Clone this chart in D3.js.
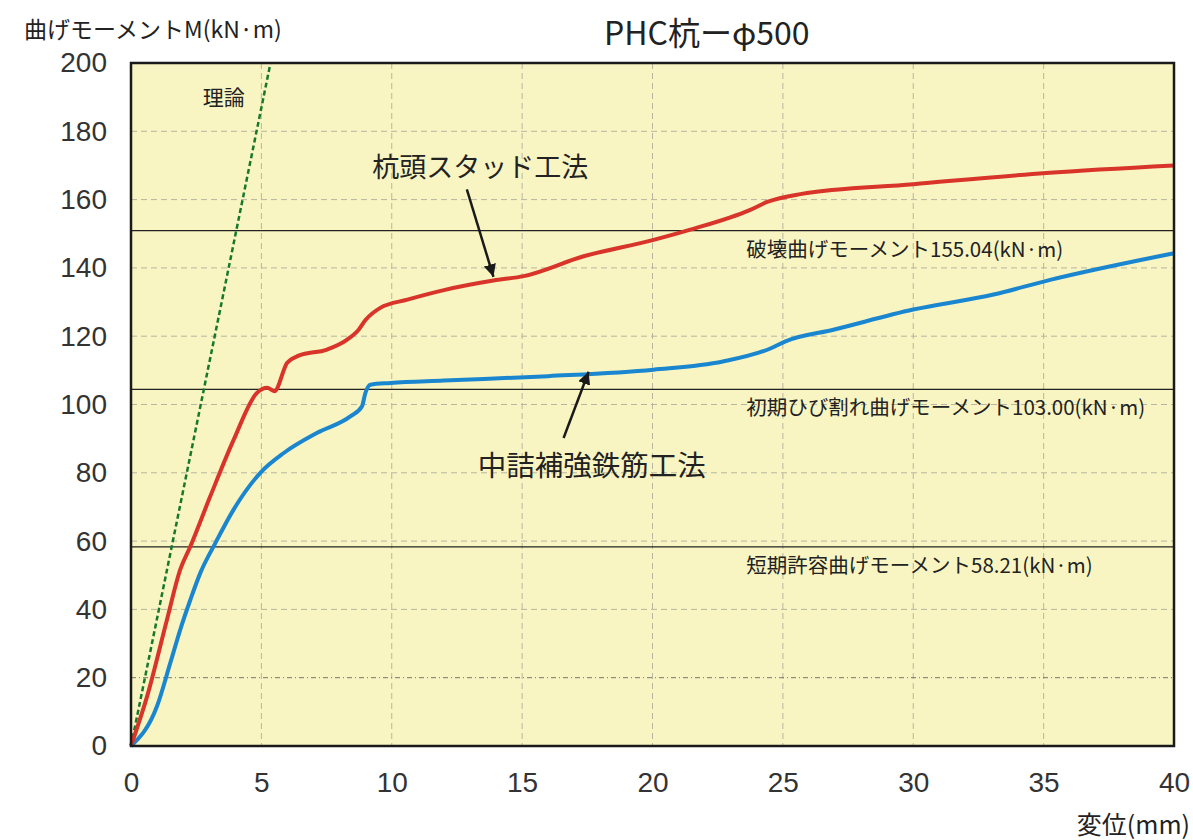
<!DOCTYPE html>
<html>
<head>
<meta charset="utf-8">
<script src="https://cdn.jsdelivr.net/npm/d3@7"></script>
<style>
  body { margin: 0; background: #fff; }
  text { font-family: "Noto Sans CJK JP", "Noto Sans", sans-serif; fill: #222; }
</style>
</head>
<body>
<div id="chart"></div>
<script>
// Values (displacement mm, moment kN·m)
var studX = [0, 0.62, 1.38, 1.89, 2.28, 3.04, 3.94, 4.83, 5.22, 5.5, 5.99, 6.43, 7.52, 8.29, 8.73, 9.0, 9.56, 10.6, 12.0, 13.9, 15.06, 17.36, 20.04, 21.45, 23.75, 24.4, 25.67, 30.0, 35.1, 40];
var studY = [0, 14.6, 37, 51.7, 58.5, 73.1, 89.7, 103.4, 104.9, 103.9, 112.2, 114.3, 116.1, 119, 121.9, 124.8, 128.3, 130.7, 133.5, 136.3, 137.6, 143.4, 148.2, 151.2, 157, 159.3, 161.6, 164.5, 167.8, 170];

var rebarX = [0, 1.0, 1.51, 1.89, 2.28, 2.66, 3.24, 3.94, 4.96, 5.86, 7.14, 8.41, 8.86, 8.99, 9.18, 9.95, 12.0, 16.0, 20.04, 22.7, 24.52, 25.1, 26.94, 30.0, 33.08, 35.25, 40];
var rebarY = [0, 11.7, 24.4, 34.1, 42.9, 50.7, 59.5, 69.3, 80, 85.8, 91.7, 96.5, 99.5, 103.4, 105.8, 106.3, 107.0, 108.3, 110.2, 112.6, 116.4, 118.5, 121.9, 127.8, 132.2, 136.5, 144.3];

var theoryX = [0, 5.35];
var theoryY = [0, 200];

// reference lines (where they are drawn in the picture) and their labels
var refValues = [150.9, 104.4, 58.3];
var refLabels = ["破壊曲げモーメント155.04(kN·m)", "初期ひび割れ曲げモーメント103.00(kN·m)", "短期許容曲げモーメント58.21(kN·m)"];

var xTicks = [0, 5, 10, 15, 20, 25, 30, 35, 40];
var yTicks = [0, 20, 40, 60, 80, 100, 120, 140, 160, 180, 200];

// Set the dimensions and margins of the graph
var margin = { top: 63, right: 19, bottom: 94, left: 131 },
  width = 1193 - margin.left - margin.right,
  height = 840 - margin.top - margin.bottom;

var svgRoot = d3.select("#chart")
  .append("svg")
  .attr("width", 1193)
  .attr("height", 840);

var svg = svgRoot.append("g")
  .attr("transform", "translate(" + margin.left + "," + margin.top + ")");

var x = d3.scaleLinear().domain([0, 40]).range([0, width]);
var y = d3.scaleLinear().domain([0, 200]).range([height, 0]);

// plot background
svg.append("rect")
  .attr("width", width)
  .attr("height", height)
  .attr("fill", "#f8f5c2");

// grid
svg.append("g")
  .selectAll("line")
  .data(xTicks.slice(1, -1))
  .join("line")
  .attr("x1", function (d) { return x(d); })
  .attr("x2", function (d) { return x(d); })
  .attr("y1", 0)
  .attr("y2", height)
  .attr("stroke", "#b8b6a0")
  .attr("stroke-width", 1)
  .attr("stroke-dasharray", "6,4");

svg.append("g")
  .selectAll("line")
  .data(yTicks.slice(1, -1))
  .join("line")
  .attr("x1", 0)
  .attr("x2", width)
  .attr("y1", function (d) { return y(d); })
  .attr("y2", function (d) { return y(d); })
  .attr("stroke", function (d) { return d === 20 ? "#77766a" : "#b8b6a0"; })
  .attr("stroke-width", 1)
  .attr("stroke-dasharray", function (d) { return d === 20 ? "5,3,1,3" : "6,4"; });

// reference lines + labels
svg.append("g")
  .selectAll("line")
  .data(refValues)
  .join("line")
  .attr("x1", 0)
  .attr("x2", width)
  .attr("y1", function (d) { return y(d); })
  .attr("y2", function (d) { return y(d); })
  .attr("stroke", "#222")
  .attr("stroke-width", 1.2);

svg.append("g")
  .selectAll("text")
  .data(refValues)
  .join("text")
  .attr("x", x(23.6))
  .attr("y", function (d) { return y(d) + 26; })
  .style("font-size", "20.5px")
  .text(function (d, i) { return refLabels[i]; });

// axes
var xAxis = svg.append("g")
  .attr("transform", "translate(0," + height + ")")
  .call(d3.axisBottom(x).tickValues(xTicks).tickSize(0).tickPadding(26));
var yAxis = svg.append("g")
  .call(d3.axisLeft(y).tickValues(yTicks).tickSize(0).tickPadding(24));
[xAxis, yAxis].forEach(function (a) {
  a.select(".domain").remove();
  a.selectAll("text")
    .style("font-family", "'Liberation Sans', Arial, sans-serif")
    .style("font-size", "28px")
    .style("fill", "#333");
});

// lines
var line = d3.line()
  .x(function (d) { return x(d[0]); })
  .y(function (d) { return y(d[1]); })
  .curve(d3.curveMonotoneX);

svg.append("path")
  .datum(d3.zip(theoryX, theoryY))
  .attr("fill", "none")
  .attr("stroke", "#17782c")
  .attr("stroke-width", 2.5)
  .attr("stroke-dasharray", "5,3")
  .attr("d", line);

svg.append("path")
  .datum(d3.zip(rebarX, rebarY))
  .attr("fill", "none")
  .attr("stroke", "#1a86cf")
  .attr("stroke-width", 4)
  .attr("d", line);

svg.append("path")
  .datum(d3.zip(studX, studY))
  .attr("fill", "none")
  .attr("stroke", "#d8342a")
  .attr("stroke-width", 4)
  .attr("d", line);

// frame
svg.append("rect")
  .attr("width", width)
  .attr("height", height)
  .attr("fill", "none")
  .attr("stroke", "#1a1a1a")
  .attr("stroke-width", 2.5);

// annotation arrows
svgRoot.append("defs").append("marker")
  .attr("id", "arrow")
  .attr("viewBox", "0 0 10 10")
  .attr("refX", 10)
  .attr("refY", 5)
  .attr("markerWidth", 5)
  .attr("markerHeight", 5)
  .attr("markerUnits", "strokeWidth")
  .attr("orient", "auto")
  .append("path")
  .attr("d", "M0,0 L10,5 L0,10 z")
  .attr("fill", "#1a1a1a");

var arrows = [
  { from: [12.88, 163], to: [13.9, 137.4] },
  { from: [16.59, 90.2], to: [17.55, 109.6] }
];
svg.append("g")
  .selectAll("line")
  .data(arrows)
  .join("line")
  .attr("x1", function (d) { return x(d.from[0]); })
  .attr("y1", function (d) { return y(d.from[1]); })
  .attr("x2", function (d) { return x(d.to[0]); })
  .attr("y2", function (d) { return y(d.to[1]); })
  .attr("stroke", "#1a1a1a")
  .attr("stroke-width", 2.5)
  .attr("marker-end", "url(#arrow)");

svg.append("text")
  .attr("x", x(9.25))
  .attr("y", y(166.5))
  .style("font-size", "27px")
  .text("杭頭スタッド工法");

svg.append("text")
  .attr("x", x(13.3))
  .attr("y", y(79))
  .style("font-size", "28.5px")
  .text("中詰補強鉄筋工法");

svg.append("text")
  .attr("x", x(2.75))
  .attr("y", y(187.8))
  .style("font-size", "21px")
  .text("理論");

// titles
svgRoot.append("text")
  .attr("x", 604)
  .attr("y", 45)
  .style("font-size", "32px")
  .style("font-weight", "normal")
  .text("PHC杭ーφ500");

svgRoot.append("text")
  .attr("x", 24)
  .attr("y", 38)
  .style("font-size", "23px")
  .text("曲げモーメントM(kN·m)");

svgRoot.append("text")
  .attr("x", 1190)
  .attr("y", 834)
  .attr("text-anchor", "end")
  .style("font-size", "25px")
  .text("変位(mm)");
</script>
</body>
</html>
